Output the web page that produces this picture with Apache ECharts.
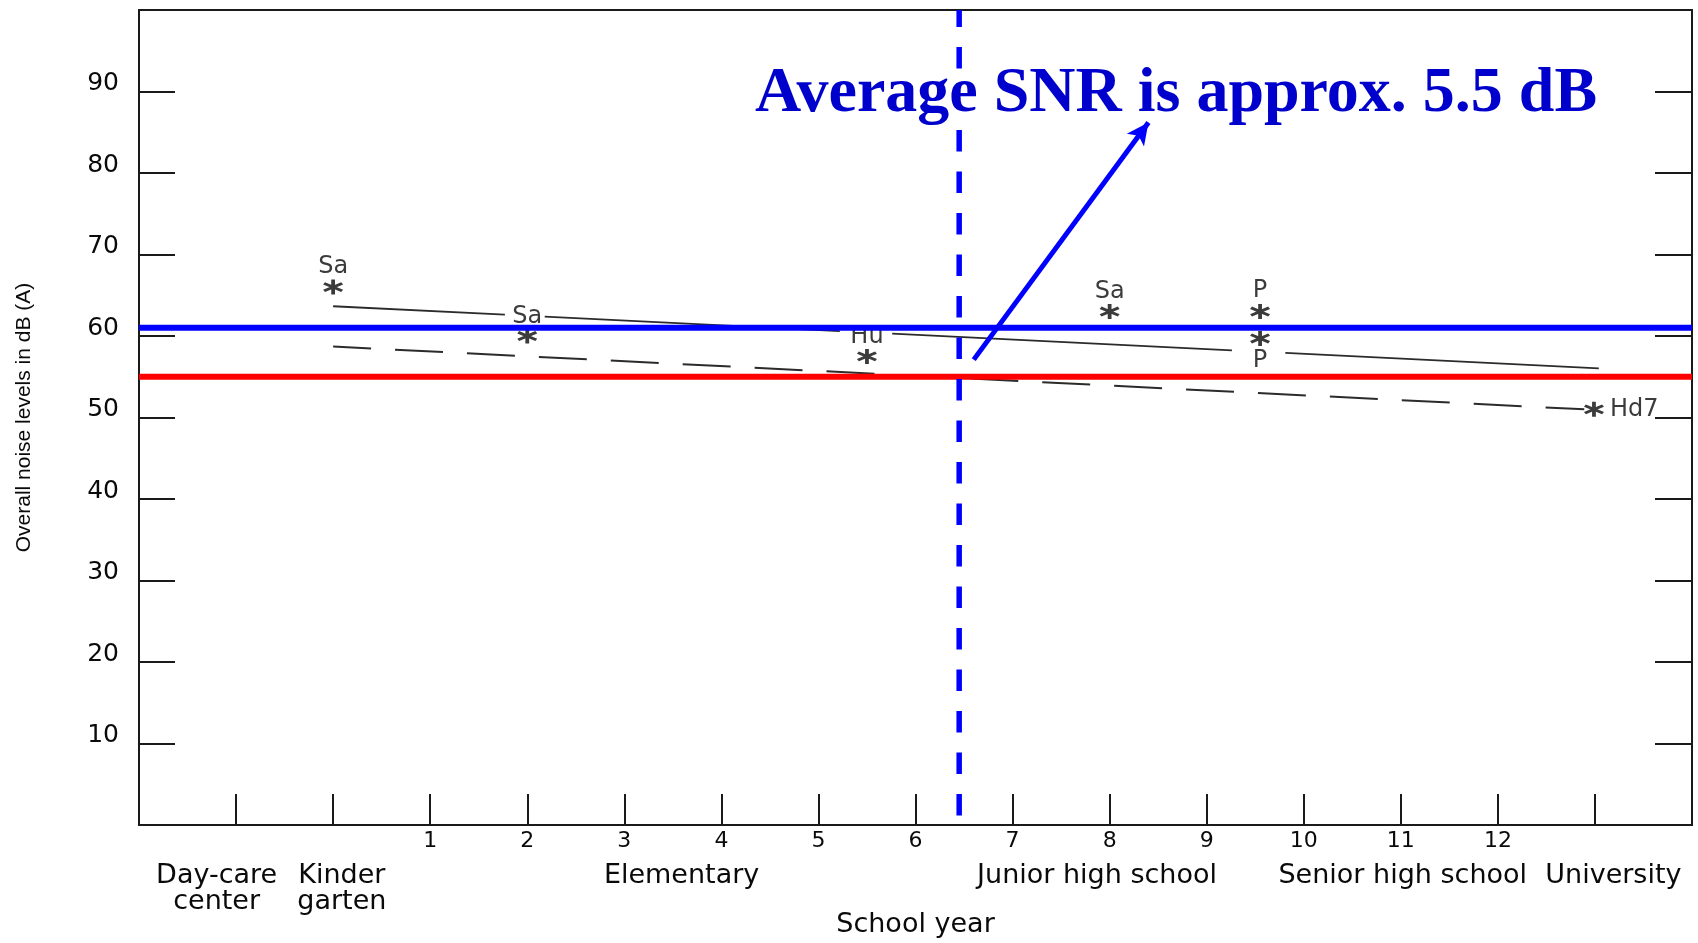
<!DOCTYPE html>
<html>
<head>
<meta charset="utf-8">
<script src="https://cdn.jsdelivr.net/npm/echarts@6/dist/echarts.min.js"></script>
<style>
html,body{margin:0;padding:0;background:#ffffff;}
#chart{width:1698px;height:943px;}
</style>
</head>
<body>
<div id="chart"></div>
<script>
// ---------- data ----------
const yTickLabels = [10, 20, 30, 40, 50, 60, 70, 80, 90];
const xTickLabels = [1, 2, 3, 4, 5, 6, 7, 8, 9, 10, 11, 12];
const groupNames = ['Day-care\ncenter', 'Kinder\ngarten', 'Elementary', 'Junior high school', 'Senior high school', 'University'];
const groupCenters = [-1.2, 0.09, 3.59, 7.87, 11.02, 13.19];

const pointNames = ['Sa', 'Sa', 'Hu', 'Sa', 'P', 'P', 'Hd7'];
const pointX = [0, 2, 5.5, 8, 9.55, 9.55, 12.99];
const pointY = [66.0, 60.0, 57.5, 63.0, 63.0, 59.7, 51.0];

// solid trend line (broken where labels sit)
const solidTrend = [
  [[0, 63.65], [1.77, 62.62]],
  [[2.18, 62.38], [5.22, 60.6]],
  [[5.76, 60.29], [9.26, 58.24]],
  [[9.81, 57.92], [13.04, 56.03]]
];
// dashed trend line
const dashedTrend = [[0, 58.7], [12.89, 51.0]];

const blueLevel = 61;
const redLevel = 55;
const dividerX = 6.45;
const arrowFrom = [6.6, 57.1];
const arrowTo = [8.4, 86.2];
const titleText = 'Average SNR is approx. 5.5 dB';

// ---------- styles ----------
const INK = '#1a1a1a';
const TXT = '#0a0a0a';
const SANS = 'DejaVu Sans';
const labelSide = ['top', 'top', 'top', 'top', 'top', 'bottom', 'right'];
const labelDist = [1, 0, 0, 0, 1, 3, 6];
const asteriskPath = 'path://M-1.8,-10 L1.8,-10 L1.8,10 L-1.8,10 Z ' +
  'M-9.5,-3.5 L-7.7,-6.6 L9.5,3.5 L7.7,6.6 Z ' +
  'M-7.7,6.6 L-9.5,3.5 L7.7,-6.6 L9.5,-3.5 Z';

const chart = echarts.init(document.getElementById('chart'), null, {renderer: 'canvas'});

const series = [];
solidTrend.forEach(function (seg) {
  series.push({
    type: 'line', data: seg, showSymbol: false, symbol: 'none', z: 2,
    lineStyle: {color: '#2b2b2b', width: 1.8}, silent: true
  });
});
series.push({
  type: 'line', data: dashedTrend, showSymbol: false, symbol: 'none', z: 2,
  lineStyle: {color: '#2b2b2b', width: 2, type: [48, 24], dashOffset: 10}, silent: true
});
series.push({
  type: 'scatter', z: 3,
  symbol: asteriskPath, symbolSize: [20, 15],
  itemStyle: {color: '#0a0a0a'},
  data: pointX.map(function (x, i) {
    return {
      name: pointNames[i], value: [x, pointY[i]],
      label: {position: labelSide[i], distance: labelDist[i]}
    };
  }),
  label: {show: true, formatter: '{b}', fontFamily: SANS, fontSize: 24, color: TXT}
});
series.push({
  type: 'line', data: [[-2, redLevel], [14, redLevel]], showSymbol: false, symbol: 'none', z: 4,
  lineStyle: {color: '#ff0000', width: 6}, silent: true
});
series.push({
  type: 'line', data: [[-2, blueLevel], [14, blueLevel]], showSymbol: false, symbol: 'none', z: 5,
  lineStyle: {color: '#0000ff', width: 6}, silent: true,
  markLine: {
    silent: true, animation: false,
    symbol: ['none', 'arrow'], symbolSize: [16, 22],
    lineStyle: {color: '#0000ff', width: 5, type: 'solid'},
    label: {show: false},
    data: [[{coord: arrowFrom}, {coord: arrowTo}]]
  }
});
series.push({
  type: 'line', data: [[dividerX, 100], [dividerX, 0]], showSymbol: false, symbol: 'none', z: 6,
  lineStyle: {color: '#0000ff', width: 5.5, type: [21.5, 20], dashOffset: 4.5}, silent: true
});

const option = {
  animation: false,
  backgroundColor: '#ffffff',
  grid: {left: 139, right: 6, top: 10, bottom: 116, show: true, borderColor: INK, borderWidth: 2, backgroundColor: 'transparent'},
  xAxis: {
    type: 'value', min: -2, max: 14, interval: 1,
    axisLine: {show: true, onZero: false, lineStyle: {color: INK, width: 2}},
    axisTick: {show: true, inside: true, length: 31, lineStyle: {color: INK, width: 2}},
    splitLine: {show: false},
    axisLabel: {
      show: true, margin: 5, fontFamily: SANS, fontSize: 22, color: TXT,
      showMinLabel: true, showMaxLabel: true,
      formatter: function (v) { return xTickLabels.indexOf(v) >= 0 ? String(v) : ''; }
    },
    name: 'School year', nameLocation: 'middle', nameGap: 86,
    nameTextStyle: {fontFamily: SANS, fontSize: 27, color: TXT}
  },
  yAxis: [{
    type: 'value', min: 0, max: 100, interval: 10, position: 'left',
    axisLine: {show: true, onZero: false, lineStyle: {color: INK, width: 2}},
    axisTick: {show: true, inside: true, length: 36, lineStyle: {color: INK, width: 2}},
    splitLine: {show: false},
    axisLabel: {
      show: true, margin: 20, fontFamily: SANS, fontSize: 25, color: TXT,
      verticalAlign: 'bottom', lineHeight: 16,
      formatter: function (v) { return yTickLabels.indexOf(v) >= 0 ? String(v) : ''; }
    },
    name: 'Overall noise levels in dB (A)', nameLocation: 'middle', nameRotate: 90, nameGap: 104,
    nameTextStyle: {fontFamily: 'Liberation Sans', fontSize: 21, color: TXT}
  }, {
    type: 'value', min: 0, max: 100, interval: 10, position: 'right',
    axisLine: {show: true, onZero: false, lineStyle: {color: INK, width: 2}},
    axisTick: {show: true, inside: true, length: 37, lineStyle: {color: INK, width: 2}},
    splitLine: {show: false},
    axisLabel: {show: false}
  }],
  series: series
};
chart.setOption(option);

// group labels under the axis, anchored to the x scale
const graphics = groupNames.map(function (name, i) {
  const px = chart.convertToPixel({xAxisIndex: 0}, groupCenters[i]);
  return {
    type: 'text', x: px, y: 863, z: 100,
    style: {text: name, align: 'center', verticalAlign: 'top', fontFamily: SANS, fontSize: 27, lineHeight: 26, fill: TXT}
  };
});
graphics.push({
  type: 'rect', z: 99, shape: {x: 750, y: 70, width: 855, height: 50}, style: {fill: '#ffffff'}
});
graphics.push({
  type: 'text', x: 755, y: 94, z: 101,
  style: {text: titleText, fontFamily: 'Liberation Serif', fontWeight: 'bold', fontSize: 64, fill: '#0000cc', verticalAlign: 'middle', align: 'left'}
});
chart.setOption({graphic: graphics});
</script>
</body>
</html>
